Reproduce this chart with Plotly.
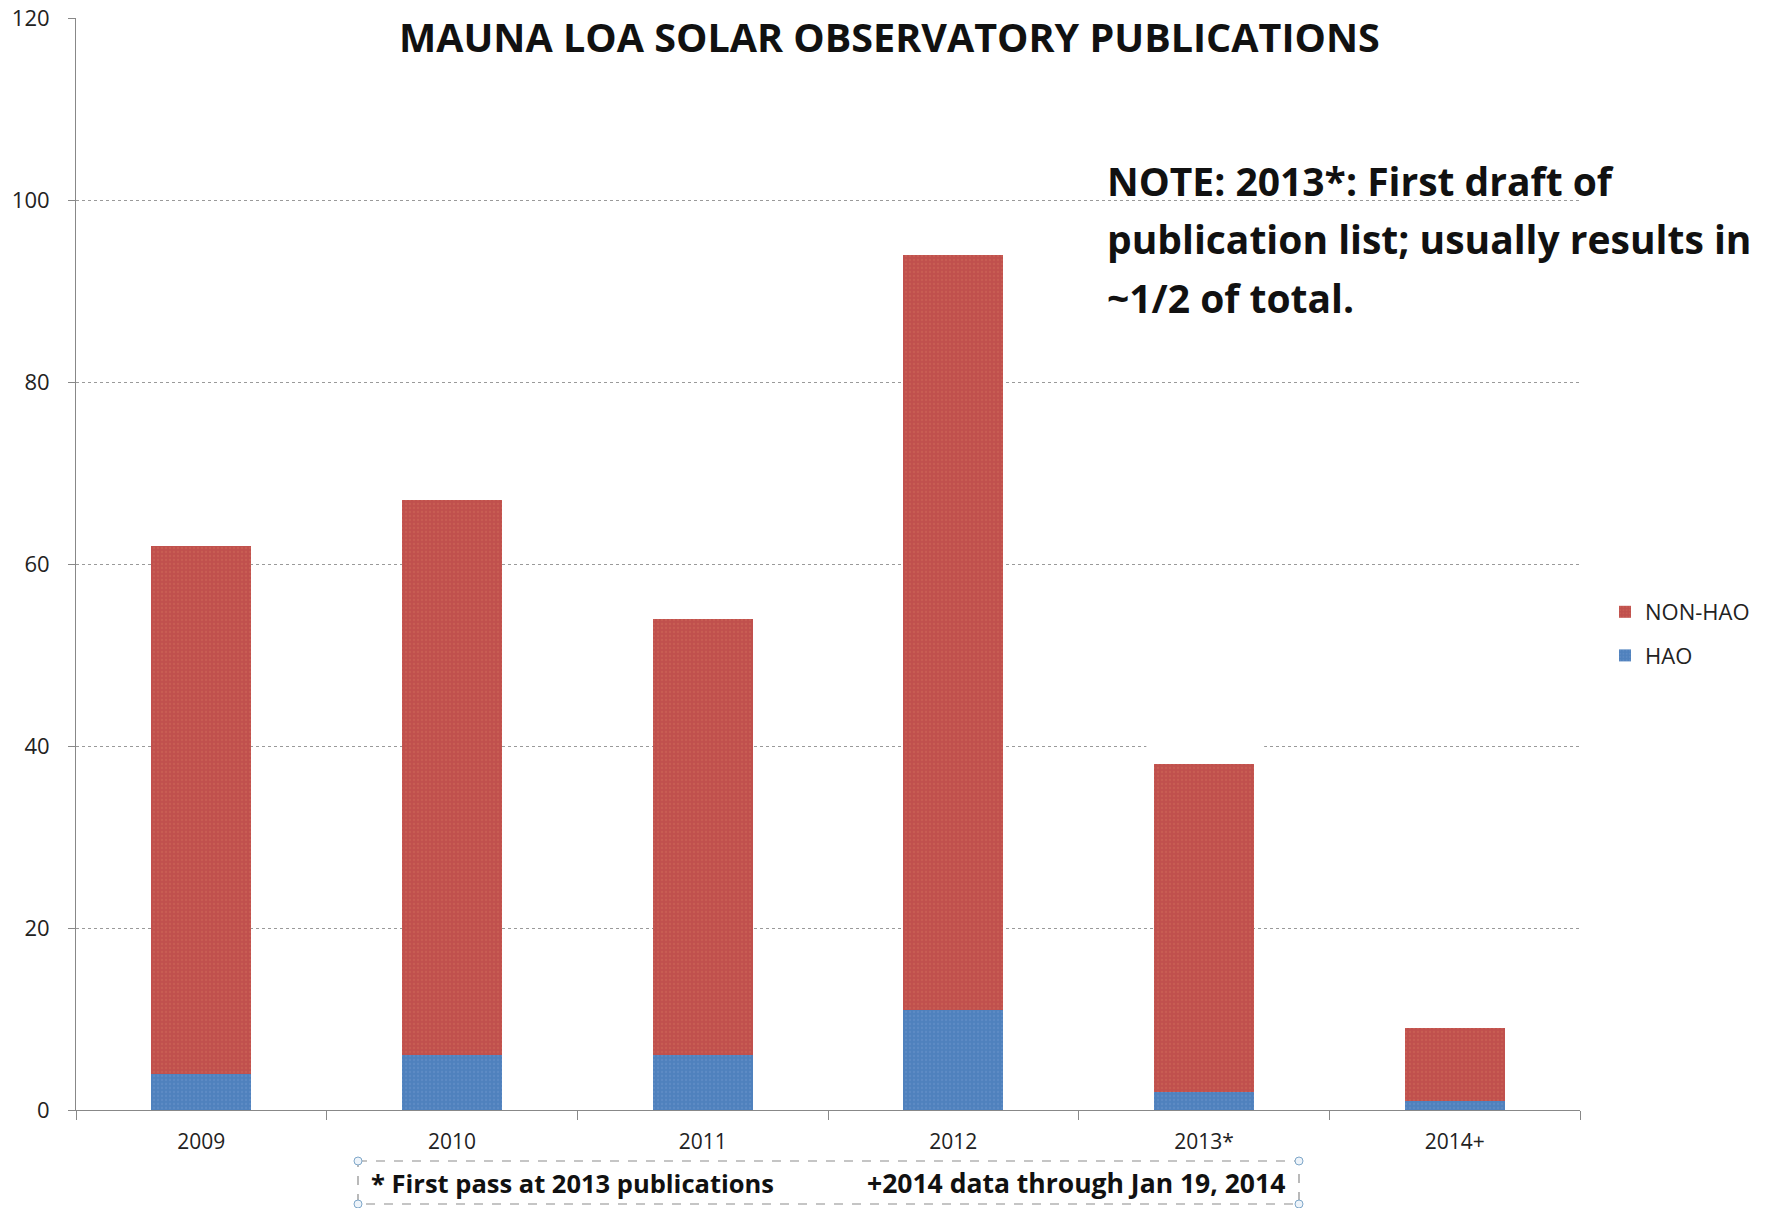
import plotly.graph_objects as go

# ---- data ----
categories = ["2009", "2010", "2011", "2012", "2013*", "2014+"]
hao = [4, 6, 6, 11, 2, 1]
non_hao = [58, 61, 48, 83, 36, 8]
y_ticks = [0, 20, 40, 60, 80, 100, 120]

title_text = "MAUNA LOA SOLAR OBSERVATORY PUBLICATIONS"
note_lines = ["NOTE: 2013*: First draft of",
              "publication list; usually results in",
              "~1/2 of total."]
foot_left = "* First pass at 2013 publications"
foot_right = "+2014 data through Jan 19, 2014"

RED = "#C0504D"
BLUE = "#4F81BD"
GRID = "#9a9a9a"
FONT = "Open Sans, Liberation Sans, Arial, sans-serif"

fig = go.Figure()
fig.add_trace(go.Bar(
    x=categories, y=hao, name="HAO", legendgroup="a", legendrank=2,
    marker=dict(color=BLUE, line=dict(width=0),
                pattern=dict(shape=".", fgcolor="#6a96cc", size=4, solidity=0.25)),
))
fig.add_trace(go.Bar(
    x=categories, y=non_hao, name="NON-HAO", legendgroup="b", legendrank=1,
    marker=dict(color=RED, line=dict(width=0),
                pattern=dict(shape=".", fgcolor="#cf6a58", size=4, solidity=0.25)),
))

W, H = 1769, 1208
L, R, T, B = 76, 189, 18, 98
pw, ph = W - L - R, H - T - B
def px2x(p): return (p - L) / pw
def px2y(p): return (H - B - p) / ph

fig.update_layout(
    width=W, height=H,
    barmode="stack", bargap=0.6,
    margin=dict(l=L, r=R, t=T, b=B, pad=0, autoexpand=False),
    paper_bgcolor="white", plot_bgcolor="white",
    font=dict(family=FONT, color="#1a1a1a"),
    showlegend=True,
    legend=dict(x=px2x(1605), xanchor="left", y=px2y(634), yanchor="middle",
                traceorder="grouped", tracegroupgap=12,
                font=dict(size=22, family=FONT, color="#222"),
                bgcolor="rgba(0,0,0,0)"),
)

fig.update_xaxes(
    type="category", automargin=False, showgrid=False, showline=True,
    linecolor="#888", linewidth=1,
    ticks="outside", tickson="boundaries", ticklen=9, tickcolor="#888",
    tickfont=dict(size=21, family=FONT, color="#222"),
    ticklabelstandoff=13,
)
fig.update_yaxes(
    range=[0, 120], tickvals=y_ticks, automargin=False, showgrid=True, gridcolor=GRID,
    griddash="dot", gridwidth=1,
    showline=True, linecolor="#888", linewidth=1, zeroline=False,
    ticks="outside", ticklen=7, tickcolor="#888",
    tickfont=dict(size=22, family=FONT, color="#222"),
    ticklabelstandoff=14,
)

# white gap in the 40 gridline (hidden text box in original)
fig.add_shape(type="rect", xref="x", yref="y", x0=3.77, x1=4.24, y0=39.2, y1=40.8,
              fillcolor="white", line=dict(width=0), layer="above")

# title
fig.add_annotation(text="<b>" + title_text + "</b>", xref="paper", yref="paper",
                   x=px2x(889), y=px2y(37), xanchor="center", yanchor="middle",
                   showarrow=False, font=dict(size=39.5, family=FONT, color="#111"))

# note
note_y_px = [180, 239, 297]
for line, ypx in zip(note_lines, note_y_px):
    fig.add_annotation(text="<b>" + line + "</b>", xref="paper", yref="paper",
                       x=px2x(1105), y=px2y(ypx),
                       xanchor="left", yanchor="middle", showarrow=False,
                       font=dict(size=39, family=FONT, color="#111"))

# footnote box
fig.add_shape(type="rect", xref="paper", yref="paper",
              x0=px2x(358), x1=px2x(1299), y0=px2y(1161), y1=px2y(1204),
              line=dict(color="#8c8c8c", width=1.2, dash="dash"), fillcolor="rgba(0,0,0,0)")
for cx in (358, 1299):
    for cy in (1161, 1204):
        fig.add_shape(type="circle", xref="paper", yref="paper",
                      x0=px2x(cx - 4), x1=px2x(cx + 4), y0=px2y(cy - 4), y1=px2y(cy + 4),
                      line=dict(color="#7fa7c9", width=1), fillcolor="#eef4fa")

fig.add_annotation(text="<b>" + foot_left + "</b>", xref="paper", yref="paper",
                   x=px2x(369), y=px2y(1183), xanchor="left", yanchor="middle",
                   showarrow=False, font=dict(size=25.5, family=FONT, color="#111"))
fig.add_annotation(text="<b>" + foot_right + "</b>", xref="paper", yref="paper",
                   x=px2x(1287), y=px2y(1183), xanchor="right", yanchor="middle",
                   showarrow=False, font=dict(size=26.5, family=FONT, color="#111"))

fig.write_html("out.html", config={"displayModeBar": False},
               post_script="document.body.style.margin='0';")
